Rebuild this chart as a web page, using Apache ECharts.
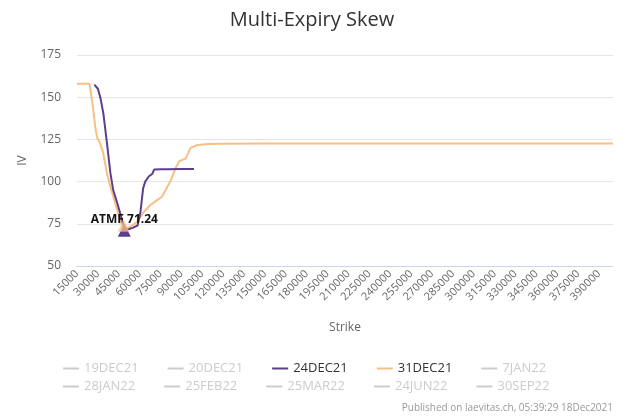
<!DOCTYPE html>
<html>
<head>
<meta charset="utf-8">
<script src="https://cdn.jsdelivr.net/npm/echarts@6/dist/echarts.min.js"></script>
<style>
  html, body { margin: 0; padding: 0; background: #fff; }
  #main { width: 624px; height: 416px; }
</style>
</head>
<body>
<div id="main"></div>
<script>
// expiries shown in the legend (two rows)
const expiriesRow1 = ['19DEC21', '20DEC21', '24DEC21', '31DEC21', '7JAN22']
const expiriesRow2 = ['28JAN22', '25FEB22', '25MAR22', '24JUN22', '30SEP22']
const expiries = [...expiriesRow1, ...expiriesRow2]

// 24DEC21 skew
const strikes24 = [27500, 30000, 32000, 34000, 36500, 39000, 41000, 44000, 47500, 49500,
                   52000, 55000, 58500, 60500, 62500, 64000, 66500, 69000, 70500, 75000,
                   80000, 90000, 99000]
const iv24 = [157.5, 155, 149, 140, 123, 105, 95, 87, 77, 71.5,
              71.8, 72.6, 74, 81.5, 96, 100, 103, 104.5, 107.2, 107.3,
              107.3, 107.4, 107.4]

// 31DEC21 skew
const strikes31 = [15000, 20000, 24000, 26500, 28000, 29500, 31500, 33800, 36500, 39000,
                   42500, 44500, 47000, 48500, 50500, 53000, 58000, 62500, 67500, 72500,
                   76000, 82000, 85800, 88500, 91000, 93000, 96500, 101500, 110000, 120000,
                   150000, 200000, 250000, 300000, 350000, 400000]
const iv31 = [158, 158, 158, 144, 133, 126, 123, 117, 105, 97,
              87, 81.5, 75, 72.6, 72.5, 73, 76, 81.5, 86, 89,
              91, 100, 108, 112, 113, 113.5, 120, 121.7, 122.3, 122.4,
              122.5, 122.5, 122.5, 122.5, 122.5, 122.5]

// ATMF markers
const atmf24 = [49000, 71.24]
const atmf31 = [48500, 73.8]

const xTicks = { min: 15000, max: 400000, step: 15000 }
const yTicks = { min: 50, max: 175, step: 25 }

const purple = '#5c3f8f'
const orange = '#f8bf84'
const font = '"Open Sans", "DejaVu Sans", sans-serif'

const pairs = (xs, ys) => xs.map((x, i) => [x, ys[i]])

const series = expiries.map(name => ({ name, type: 'line', data: [], showSymbol: false }))
series[2] = {
    name: '24DEC21', type: 'line', data: pairs(strikes24, iv24),
    showSymbol: false, color: purple, lineStyle: { width: 2 }, z: 3,
    markPoint: {
        symbol: 'triangle', symbolSize: 13,
        data: [{
            coord: atmf24,
            itemStyle: { color: purple },
            label: {
                show: true, position: 'top', distance: 0, offset: [0, 2],
                formatter: 'ATMF ' + atmf24[1],
                color: '#111', fontWeight: 'bold', fontSize: 12, fontFamily: font
            }
        }]
    }
}
series[3] = {
    name: '31DEC21', type: 'line', data: pairs(strikes31, iv31),
    showSymbol: false, color: orange, lineStyle: { width: 2 }, z: 2,
    markPoint: {
        symbol: 'triangle', symbolSize: 12,
        data: [{ coord: atmf31, itemStyle: { color: orange, opacity: 0.75 }, label: { show: false } }]
    }
}

const selected = {}
expiries.forEach(n => { selected[n] = (n === '24DEC21' || n === '31DEC21') })

// two legend rows
const legendRow = (data, top) => ({
    data, selected, top, left: 58,
    icon: 'rect', itemWidth: 16, itemHeight: 2, itemGap: 29,
    inactiveColor: '#cccccc',
    textStyle: { fontSize: 13, color: '#333', fontFamily: font }
})

var myChart = echarts.init(document.getElementById('main'))

myChart.setOption({
    animation: false,
    textStyle: { fontFamily: font },
    title: {
        text: 'Multi-Expiry Skew', left: 'center', top: 5,
        textStyle: { fontSize: 20, fontWeight: 'normal', color: '#333', fontFamily: font }
    },
    legend: [legendRow(expiriesRow1, 357), legendRow(expiriesRow2, 375)],
    grid: { left: 77, right: 11, top: 55, bottom: 150 },
    xAxis: {
        type: 'value', min: xTicks.min, max: xTicks.max, interval: xTicks.step,
        name: 'Strike', nameLocation: 'middle', nameGap: 56,
        nameTextStyle: { color: '#666', fontSize: 12 },
        axisLine: { lineStyle: { color: '#ccd6eb' } },
        axisTick: { show: false },
        splitLine: { show: false },
        axisLabel: {
            rotate: 45, color: '#666', fontSize: 11, showMaxLabel: false, margin: 6,
            formatter: v => String(v)
        }
    },
    yAxis: {
        type: 'value', min: yTicks.min, max: yTicks.max, interval: yTicks.step,
        name: 'IV', nameLocation: 'middle', nameGap: 48, nameRotate: 90,
        nameTextStyle: { color: '#666', fontSize: 12 },
        axisLine: { show: false },
        axisTick: { show: false },
        splitLine: { lineStyle: { color: '#e6e6e6' } },
        axisLabel: { color: '#666', fontSize: 12, margin: 16 }
    },
    graphic: [{
        type: 'text', right: 11, top: 403,
        style: { text: 'Published on laevitas.ch, 05:39:29 18Dec2021', fill: '#999', fontSize: 10, fontFamily: font }
    }],
    series
})
</script>
</body>
</html>
